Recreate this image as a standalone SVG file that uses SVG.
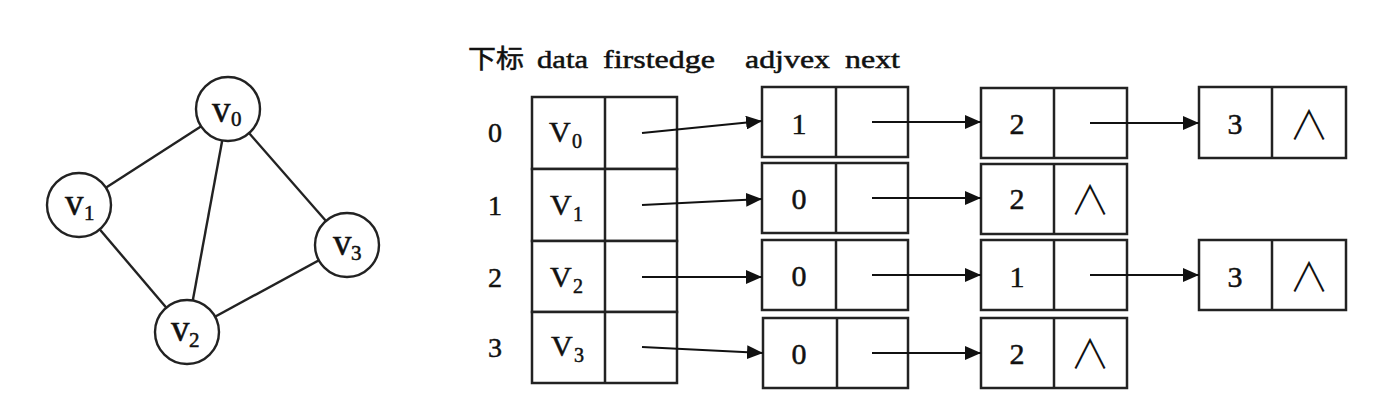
<svg xmlns="http://www.w3.org/2000/svg" width="1381" height="405" viewBox="0 0 1381 405">
<defs>
<marker id="ah" markerUnits="userSpaceOnUse" markerWidth="16" markerHeight="14" refX="16" refY="7" orient="auto">
<path d="M0,0 L16,7 L0,14 z" fill="#111"/>
</marker>
<style>
.ln{stroke:#222;stroke-width:2.4;fill:none}
.bx{stroke:#222;stroke-width:2.5;fill:#fff}
.nd{stroke:#222;stroke-width:2.4;fill:#fff}
.t{font-family:"Liberation Serif","Noto Sans CJK SC",serif;fill:#111;stroke:#111;stroke-width:0.5}
.c{text-anchor:middle}
.nil{font-family:"Noto Sans CJK JP",sans-serif;font-weight:300;font-size:40px;fill:#111;text-anchor:middle}
.ar{stroke:#111;stroke-width:2.2;fill:none;marker-end:url(#ah)}
</style>
</defs>
<rect width="1381" height="405" fill="#fff"/>

<g id="graph-edges">
<line class="ln" x1="228" y1="109" x2="79" y2="205"/>
<line class="ln" x1="228" y1="109" x2="187" y2="332"/>
<line class="ln" x1="228" y1="109" x2="347" y2="245"/>
<line class="ln" x1="79" y1="205" x2="187" y2="332"/>
<line class="ln" x1="187" y1="332" x2="347" y2="245"/>
</g>
<g id="v0"><circle class="nd" cx="228" cy="109" r="32"/><text class="t" x="212" y="122" font-size="37">v</text><text class="t" x="231" y="126" font-size="21">0</text></g>
<g id="v1"><circle class="nd" cx="79" cy="205" r="32"/><text class="t" x="65" y="215" font-size="37">v</text><text class="t" x="84" y="220" font-size="21">1</text></g>
<g id="v2"><circle class="nd" cx="187" cy="332" r="32"/><text class="t" x="171" y="341" font-size="37">v</text><text class="t" x="189" y="347" font-size="21">2</text></g>
<g id="v3"><circle class="nd" cx="347" cy="245" r="32"/><text class="t" x="333" y="255" font-size="37">v</text><text class="t" x="351" y="260" font-size="21">3</text></g>

<g id="header">
<text class="t" x="468" y="68" font-size="26" textLength="56" lengthAdjust="spacingAndGlyphs">下标</text>
<text class="t" x="537" y="68" font-size="26" textLength="51" lengthAdjust="spacingAndGlyphs">data</text>
<text class="t" x="603" y="68" font-size="26" textLength="112" lengthAdjust="spacingAndGlyphs">firstedge</text>
<text class="t" x="745" y="68" font-size="26" textLength="85" lengthAdjust="spacingAndGlyphs">adjvex</text>
<text class="t" x="845" y="68" font-size="26" textLength="55" lengthAdjust="spacingAndGlyphs">next</text>
</g>

<g id="index">
<text class="t c" x="495" y="142" font-size="28">0</text>
<text class="t c" x="495" y="215" font-size="28">1</text>
<text class="t c" x="495" y="287" font-size="28">2</text>
<text class="t c" x="495" y="357" font-size="28">3</text>
</g>

<g id="vertex-table">
<rect class="bx" x="532" y="97" width="145" height="72"/>
<rect class="bx" x="532" y="169" width="145" height="72"/>
<rect class="bx" x="532" y="241" width="145" height="71"/>
<rect class="bx" x="532" y="312" width="145" height="71"/>
<line class="bx" x1="605" y1="97" x2="605" y2="383"/>
<text class="t" x="549" y="142" font-size="30">V</text><text class="t" x="572" y="148" font-size="20">0</text>
<text class="t" x="550" y="215" font-size="30">V</text><text class="t" x="573" y="221" font-size="20">1</text>
<text class="t" x="550" y="287" font-size="30">V</text><text class="t" x="573" y="293" font-size="20">2</text>
<text class="t" x="551" y="356" font-size="30">V</text><text class="t" x="574" y="362" font-size="20">3</text>
</g>

<g id="e0-1"><rect class="bx" x="762" y="87" width="146" height="70"/><line class="bx" x1="836" y1="87" x2="836" y2="157"/><text class="t c" x="799" y="134" font-size="30">1</text></g>
<g id="e0-2"><rect class="bx" x="981" y="88" width="146" height="70"/><line class="bx" x1="1054" y1="88" x2="1054" y2="158"/><text class="t c" x="1017" y="134" font-size="30">2</text></g>
<g id="e0-3"><rect class="bx" x="1199" y="87" width="147" height="71"/><line class="bx" x1="1272" y1="87" x2="1272" y2="158"/><text class="t c" x="1235" y="134" font-size="30">3</text><text class="nil" x="1309" y="139">∧</text></g>

<g id="e1-0"><rect class="bx" x="762" y="163" width="146" height="70"/><line class="bx" x1="836" y1="163" x2="836" y2="233"/><text class="t c" x="799" y="209" font-size="30">0</text></g>
<g id="e1-2"><rect class="bx" x="981" y="164" width="146" height="70"/><line class="bx" x1="1054" y1="164" x2="1054" y2="234"/><text class="t c" x="1017" y="209" font-size="30">2</text><text class="nil" x="1090" y="214">∧</text></g>

<g id="e2-0"><rect class="bx" x="762" y="240" width="146" height="70"/><line class="bx" x1="836" y1="240" x2="836" y2="310"/><text class="t c" x="799" y="286" font-size="30">0</text></g>
<g id="e2-1"><rect class="bx" x="981" y="240" width="146" height="70"/><line class="bx" x1="1054" y1="240" x2="1054" y2="310"/><text class="t c" x="1017" y="287" font-size="30">1</text></g>
<g id="e2-3"><rect class="bx" x="1199" y="240" width="147" height="70"/><line class="bx" x1="1272" y1="240" x2="1272" y2="310"/><text class="t c" x="1235" y="287" font-size="30">3</text><text class="nil" x="1309" y="291">∧</text></g>

<g id="e3-0"><rect class="bx" x="763" y="318" width="145" height="70"/><line class="bx" x1="837" y1="318" x2="837" y2="388"/><text class="t c" x="799" y="364" font-size="30">0</text></g>
<g id="e3-2"><rect class="bx" x="981" y="318" width="146" height="70"/><line class="bx" x1="1054" y1="318" x2="1054" y2="388"/><text class="t c" x="1017" y="364" font-size="30">2</text><text class="nil" x="1090" y="368">∧</text></g>

<g id="connectors">
<line class="ar" x1="642" y1="133" x2="762" y2="121"/>
<line class="ar" x1="642" y1="205" x2="762" y2="199"/>
<line class="ar" x1="642" y1="277" x2="762" y2="277"/>
<line class="ar" x1="642" y1="347" x2="763" y2="353"/>
<line class="ar" x1="872" y1="122" x2="981" y2="122"/>
<line class="ar" x1="872" y1="198" x2="981" y2="198"/>
<line class="ar" x1="872" y1="275" x2="981" y2="275"/>
<line class="ar" x1="872" y1="353" x2="981" y2="353"/>
<line class="ar" x1="1090" y1="123" x2="1199" y2="123"/>
<line class="ar" x1="1090" y1="275" x2="1199" y2="275"/>
</g>
</svg>
